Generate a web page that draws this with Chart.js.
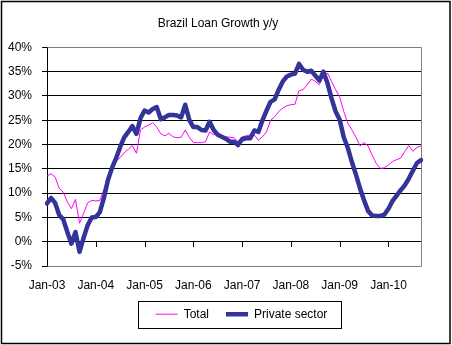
<!DOCTYPE html>
<html>
<head>
<meta charset="utf-8">
<title>Brazil Loan Growth y/y</title>
<script src="https://cdn.jsdelivr.net/npm/chart.js@4.4.1/dist/chart.umd.min.js"></script>
<style>
  html, body { margin: 0; padding: 0; background: #fff; }
  #wrap { width: 452px; height: 345px; position: relative; }
</style>
</head>
<body>
<div id="wrap"><canvas id="loanChart"></canvas></div>
<script>
// Loan growth y/y in %, monthly from Jan-2003
const startYear = 2003;
const monthNames = ['Jan', 'Feb', 'Mar', 'Apr', 'May', 'Jun', 'Jul', 'Aug', 'Sep', 'Oct', 'Nov', 'Dec'];

const totalGrowth = [
  13.5, 14.0, 13.3, 11.0, 10.2, 8.2, 6.8, 8.7, 3.8, 5.8, 8.0, 8.5,
  8.4, 8.5, 10.8, 13.5, 15.6, 16.6, 17.3, 18.3, 19.0, 19.8, 18.2, 23.0,
  23.6, 24.0, 24.5, 23.6, 22.2, 21.8, 22.3, 21.6, 21.4, 21.5, 23.0, 21.5,
  20.4, 20.4, 20.4, 20.6, 22.6, 22.0, 22.3, 21.3, 21.6, 21.5, 21.4, 20.6,
  21.6, 21.8, 22.0, 22.0, 20.9, 21.6, 22.6, 25.0, 25.7, 26.8, 27.5, 28.0,
  28.2, 28.3, 31.1, 31.3, 32.3, 33.5, 33.0, 32.3, 34.4, 34.7, 33.0, 31.3,
  29.8, 26.8, 24.4, 23.0, 21.5, 19.7, 20.4, 19.7, 17.8, 16.1, 15.1, 15.2,
  15.8, 16.5, 16.9, 17.2, 18.6, 19.8, 18.6, 19.4, 19.7
];

const privateGrowth = [
  7.9, 9.0, 8.0, 5.5, 4.6, 2.0, -0.4, 2.0, -2.1, 0.8, 3.4, 5.0,
  5.1, 6.1, 9.0, 12.7, 15.2, 17.2, 19.5, 21.5, 22.6, 23.8, 22.2, 25.4,
  27.0, 26.6, 27.3, 27.7, 25.2, 25.6, 26.1, 26.1, 26.0, 25.6, 28.2, 25.1,
  23.6, 23.6, 23.0, 22.9, 24.7, 23.0, 22.0, 21.6, 21.2, 20.6, 20.6, 19.9,
  21.1, 21.3, 21.3, 22.9, 22.6, 25.0, 27.0, 28.8, 29.3, 31.3, 33.0, 34.0,
  34.4, 34.6, 36.6, 35.4, 35.0, 35.2, 34.2, 33.2, 35.0, 32.6, 29.5, 26.8,
  25.1, 21.5, 19.3, 16.4, 13.8, 11.0, 8.5, 6.3, 5.4, 5.3, 5.3, 5.6,
  6.8, 8.4, 9.5, 10.6, 11.6, 13.0, 14.6, 16.2, 16.8
];

const yMin = -5;
const yMax = 40;
const yStep = 5;

// "Jan-03", "Feb-03", ...
const monthLabels = totalGrowth.map((_, i) =>
  monthNames[i % 12] + '-' + String((startYear + Math.floor(i / 12)) % 100).padStart(2, '0'));

Chart.defaults.font.family = '"Liberation Sans", Arial, sans-serif';
Chart.defaults.font.size = 12;
Chart.defaults.color = '#000';

const chartFrame = {
  id: 'chartFrame',
  beforeDraw(chart) {
    const ctx = chart.ctx;
    ctx.save();
    ctx.fillStyle = '#fff';
    ctx.fillRect(0, 0, chart.width, chart.height);
    ctx.strokeStyle = '#000';
    ctx.lineWidth = 1.5;
    ctx.strokeRect(1.5, 1.5, chart.width - 3.5, chart.height - 3);
    ctx.restore();
  },
  afterLayout(chart) {
    // title sits a bit left of the canvas centre, legend a bit right
    chart.titleBlock.left += 15;
    chart.legend.left += 31;
    chart.legend.right += 31;
  },
  beforeDatasetsDraw(chart) {
    const {ctx, chartArea: a, scales: {x, y}} = chart;
    const l = Math.round(a.left) + 0.5, r = Math.round(a.right) + 0.5;
    const t = Math.round(a.top) + 0.5, b = Math.round(a.bottom) + 0.5;
    ctx.save();
    ctx.lineWidth = 1;
    // grey plot border (top, right, bottom)
    ctx.strokeStyle = '#808080';
    ctx.beginPath();
    ctx.moveTo(l, t);
    ctx.lineTo(r, t);
    ctx.lineTo(r, b);
    ctx.lineTo(l, b);
    ctx.stroke();
    // yearly tick marks hanging under the zero line
    const y0 = Math.round(y.getPixelForValue(0));
    ctx.strokeStyle = '#000';
    ctx.beginPath();
    monthLabels.forEach((lab, i) => {
      if (i % 12 !== 0 || i === 0) return;
      const px = Math.round(x.getPixelForValue(i)) + 0.5;
      ctx.moveTo(px, y0);
      ctx.lineTo(px, y0 + 5);
    });
    ctx.stroke();
    ctx.restore();
  },
  afterDraw(chart) {
    // box round the legend
    const boxes = chart.legend.legendHitBoxes;
    if (!boxes || !boxes.length) return;
    const first = boxes[0], last = boxes[boxes.length - 1];
    const cy = first.top + first.height / 2;
    const left = Math.round(first.left - 18) + 0.5;
    const right = Math.round(last.left + last.width + 14) + 0.5;
    const ctx = chart.ctx;
    ctx.save();
    ctx.strokeStyle = '#000';
    ctx.lineWidth = 1;
    ctx.strokeRect(left, Math.round(cy - 13) + 0.5, right - left, 27);
    ctx.restore();
  }
};

new Chart(document.getElementById('loanChart'), {
  type: 'line',
  data: {
    labels: monthLabels,
    datasets: [
      {
        label: 'Total',
        data: totalGrowth,
        borderColor: '#FF00FF',
        backgroundColor: '#FF00FF',
        borderWidth: 1,
        pointRadius: 0,
        tension: 0,
        order: 1
      },
      {
        label: 'Private sector',
        data: privateGrowth,
        borderColor: '#333399',
        backgroundColor: '#333399',
        borderWidth: 4.5,
        borderJoinStyle: 'round',
        borderCapStyle: 'round',
        pointRadius: 0,
        tension: 0,
        order: 0
      }
    ]
  },
  options: {
    responsive: true,
    maintainAspectRatio: false,
    animation: false,
    layout: { padding: { top: 3, left: 0, right: 31, bottom: 14.8 } },
    plugins: {
      title: {
        display: true,
        text: 'Brazil Loan Growth y/y',
        color: '#000',
        font: { size: 12, weight: 'normal' },
        padding: { top: 13, bottom: 17 }
      },
      legend: {
        position: 'bottom',
        labels: {
          usePointStyle: true,
          pointStyle: 'line',
          pointStyleWidth: 22,
          padding: 17,
          color: '#000',
          font: { size: 12 },
          sort: (a, b) => a.datasetIndex - b.datasetIndex
        }
      },
      tooltip: { enabled: false }
    },
    scales: {
      x: {
        type: 'category',
        offset: false,
        afterFit(scale) { scale.height = 25.2; },
        grid: { display: false, drawTicks: false },
        border: { display: false },
        ticks: {
          autoSkip: false,
          maxRotation: 0,
          padding: 15,
          font: { size: 12, lineHeight: 0.85 },
          callback(value, index) {
            return index % 12 === 0 ? this.getLabelForValue(value) : null;
          }
        }
      },
      y: {
        min: yMin,
        max: yMax,
        afterFit(scale) { scale.width = 47; },
        ticks: {
          stepSize: yStep,
          padding: 10,
          callback: v => v + '%'
        },
        grid: {
          display: true,
          drawOnChartArea: true,
          drawTicks: true,
          color: c => (c.tick && (c.tick.value === yMax || c.tick.value === yMin)) ? '#808080' : '#000000',
          tickColor: '#000000',
          tickLength: 5,
          lineWidth: 1
        },
        border: { display: true, color: '#000000', width: 1 }
      }
    }
  },
  plugins: [chartFrame]
});
</script>
</body>
</html>
